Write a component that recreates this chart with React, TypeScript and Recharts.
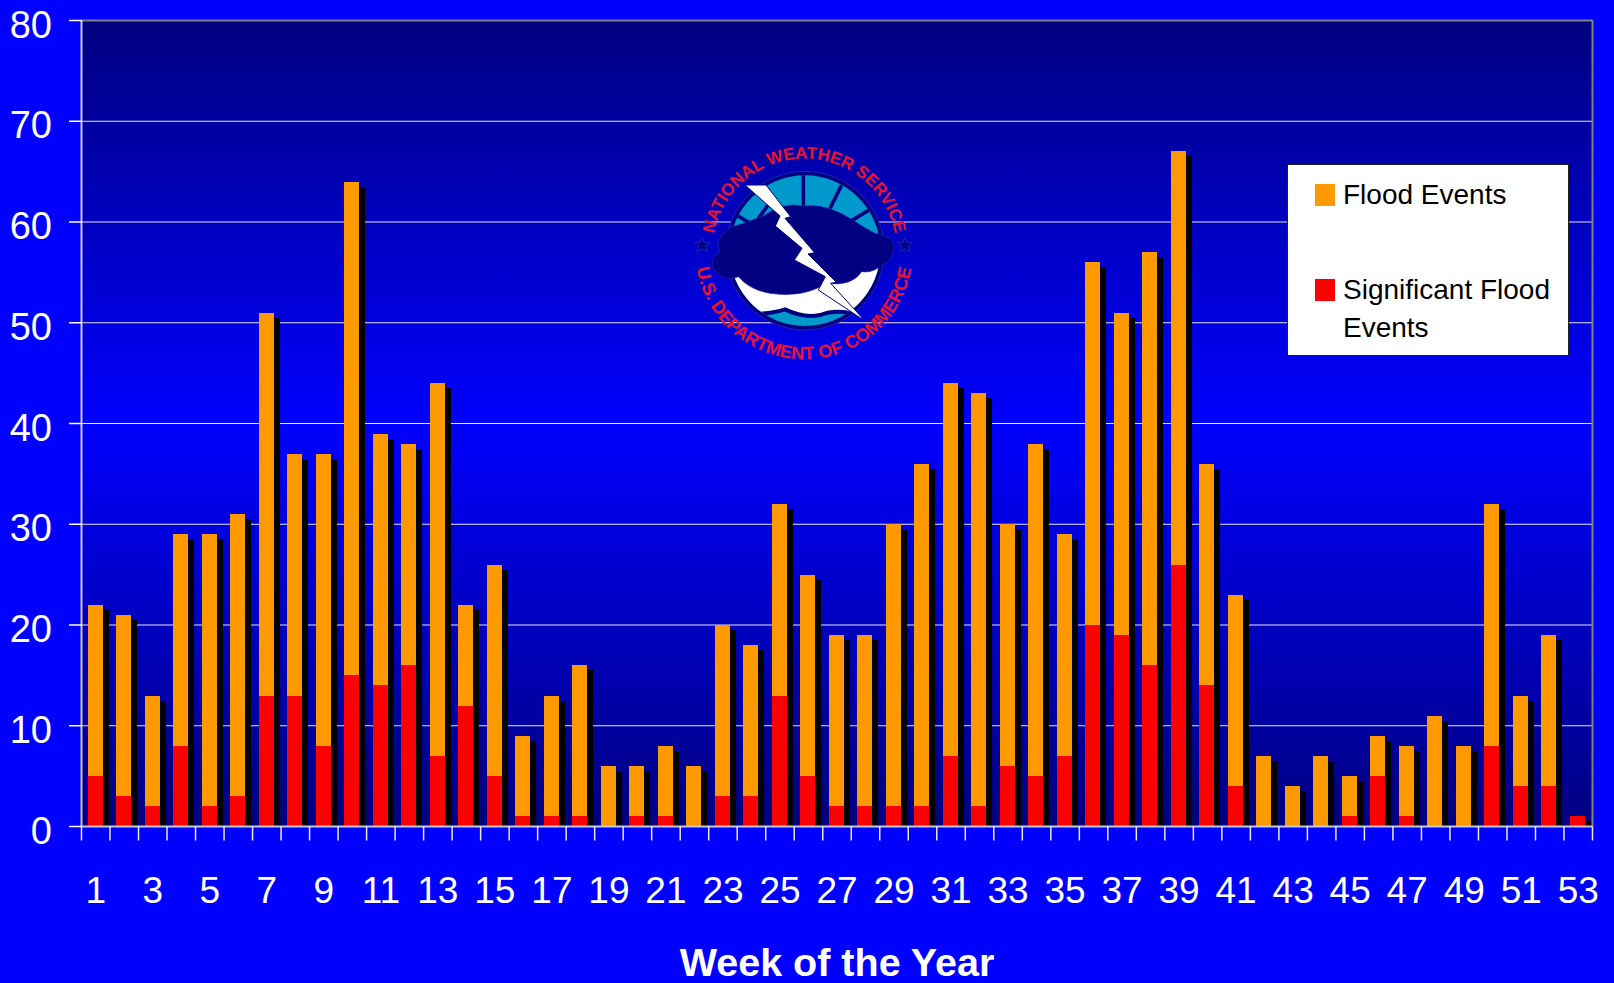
import { Bar, BarChart, CartesianGrid, Legend, ReferenceLine, XAxis, YAxis } from "recharts";

const weeks = Array.from({ length: 53 }, (_, i) => i + 1);
const floodEvents = [
  22, 21, 13, 29, 29, 31, 51, 37, 37, 64, 39, 38, 44, 22, 26, 9, 13, 16, 6, 6, 8, 6, 20, 18, 32, 25, 19,
  19, 30, 36, 44, 43, 30, 38, 29, 56, 51, 57, 67, 36, 23, 7, 4, 7, 5, 9, 8, 11, 8, 32, 13, 19, 1,
];
const significantEvents = [
  5, 3, 2, 8, 2, 3, 13, 13, 8, 15, 14, 16, 7, 12, 5, 1, 1, 1, 0, 1, 1, 0, 3, 3, 13, 5, 2,
  2, 2, 2, 7, 2, 6, 5, 7, 20, 19, 16, 26, 14, 4, 0, 0, 0, 1, 5, 1, 0, 0, 8, 4, 4, 1,
];
const yTicks = [0, 10, 20, 30, 40, 50, 60, 70, 80];

const data = weeks.map((week, i) => ({
  week,
  flood: floodEvents[i],
  significant: significantEvents[i],
}));

const WIDTH = 1614;
const HEIGHT = 983;
const margin = { top: 20.5, right: 21.5, bottom: 0, left: 0 };
const Y_AXIS_WIDTH = 81.5;
const X_AXIS_HEIGHT = 156.5;
const step = (WIDTH - Y_AXIS_WIDTH - margin.right) / weeks.length;
const FONT = "Liberation Sans, Arial, sans-serif";

function FlatBar({ x, y, width, height, fill, shadow }: any) {
  const left = Math.round(x - 1);
  const top = Math.round(y);
  const w = Math.round(width);
  const h = Math.round(y + height) - top;
  if (h <= 0) return null;
  return (
    <g>
      {shadow && <rect x={left + 6} y={top + 5} width={w} height={Math.max(h - 5, 0)} fill="#000" />}
      <rect x={left} y={top} width={w} height={h} fill={fill} />
    </g>
  );
}

function WeekTick({ x, y, index, payload }: any) {
  const edge = x - step / 2;
  return (
    <g>
      <line x1={edge} x2={edge} y1={y} y2={y + 14} stroke="#e8e8ff" strokeWidth={1.5} />
      {index === weeks.length - 1 && (
        <line x1={edge + step} x2={edge + step} y1={y} y2={y + 14} stroke="#e8e8ff" strokeWidth={1.5} />
      )}
      {index % 2 === 0 && (
        <text x={x} y={y + 76.5} textAnchor="middle" fontSize={37} fontFamily={FONT} fill="#fff">
          {payload.value}
        </text>
      )}
    </g>
  );
}

function CountTick({ x, y, payload }: any) {
  return (
    <g>
      <line x1={69} x2={82} y1={y} y2={y} stroke="#fff" strokeWidth={1.5} />
      <text x={52} y={y + 17} textAnchor="end" fontSize={38} fontFamily={FONT} fill="#fff">
        {payload.value}
      </text>
    </g>
  );
}

function LegendBox({ payload }: any) {
  const rows = payload ?? [];
  return (
    <div
      style={{
        position: "relative",
        boxSizing: "border-box",
        width: 282,
        height: 192,
        background: "#fff",
        border: "1px solid #222",
        fontFamily: FONT,
        fontSize: 28,
        lineHeight: "38px",
        color: "#000",
      }}
    >
      {rows.map((row: any, i: number) => (
        <div key={row.value} style={{ position: "absolute", left: 27, top: i === 0 ? 11 : 106, width: 250 }}>
          <span
            style={{ position: "absolute", left: 0, top: 8, width: 20, height: 22, background: row.color }}
          />
          <div style={{ marginLeft: 28 }}>{row.value}</div>
        </div>
      ))}
    </div>
  );
}

// NWS seal, drawn in a 3x local grid so the shapes are easier to place
function Seal() {
  const ink = "#000080";
  const red = "#e8142e";
  return (
    <svg
      width={260}
      height={260}
      viewBox="0 0 780 780"
      style={{ position: "absolute", left: 670, top: 120, pointerEvents: "none" }}
    >
      <defs>
        <clipPath id="sealDisc">
          <circle cx={405} cy={392} r={226} />
        </clipPath>
        <path id="sealTop" d="M 127 392 A 276 276 0 0 1 679 392" />
        <path id="sealBottom" d="M 76 392 A 326 326 0 0 0 728 392" />
      </defs>
      <circle cx={405} cy={392} r={238} fill={ink} stroke="#2222b4" strokeWidth={3} />
      <g clipPath="url(#sealDisc)">
        <rect x={150} y={150} width={520} height={480} fill="#0099cc" />
        <path
          d="M 170 470 L 640 430 L 640 530 L 530 575 Q 490 570 450 585 Q 400 592 345 570 Q 310 578 260 578 Z"
          fill="#fff"
        />
        <path
          d="M 255 582 Q 310 580 345 568 Q 400 595 450 585 Q 490 570 535 578"
          fill="none"
          stroke={ink}
          strokeWidth={12}
        />
        <g stroke={ink} strokeWidth={11}>
          <line x1={400} y1={150} x2={400} y2={270} />
          <line x1={515} y1={195} x2={480} y2={265} />
          <line x1={600} y1={268} x2={545} y2={302} />
          <line x1={298} y1={250} x2={265} y2={295} />
          <line x1={190} y1={280} x2={250} y2={315} />
        </g>
      </g>
      <g fill={ink} stroke="#2222b4" strokeWidth={2}>
        <path d="M 285 285 Q 340 245 400 258 Q 470 250 545 298 Q 585 325 615 340 Q 665 345 672 380 Q 668 425 635 435 Q 610 460 575 455 Q 545 500 470 490 Q 400 535 300 520 Q 240 510 205 470 Q 160 490 128 445 Q 120 410 150 398 Q 130 360 180 322 Q 225 310 285 285 Z" />
      </g>
      <polygon
        points="225,195 288,195 362,290 345,295 434,398 414,402 499,487 482,490 585,603 445,510 466,470 373,420 396,385 316,318 330,288"
        fill="#fff"
        stroke={ink}
        strokeWidth={3}
      />
      <polygon points="97,352 103,368 120,368 107,379 112,395 97,386 82,395 87,379 74,368 91,368" fill={ink} stroke="#2222b4" strokeWidth={3} />
      <polygon points="705,352 711,368 728,368 715,379 720,395 705,386 690,395 695,379 682,368 699,368" fill={ink} stroke="#2222b4" strokeWidth={3} />
      <text fontFamily={FONT} fontWeight={700} fontSize={51} fill={red}>
        <textPath href="#sealTop" startOffset="50%" textAnchor="middle">
          NATIONAL WEATHER SERVICE
        </textPath>
      </text>
      <text fontFamily={FONT} fontWeight={700} fontSize={54} fill={red}>
        <textPath href="#sealBottom" startOffset="50%" textAnchor="middle">
          U.S. DEPARTMENT OF COMMERCE
        </textPath>
      </text>
    </svg>
  );
}

export default function App() {
  return (
    <div style={{ position: "absolute", left: 0, top: 0, width: WIDTH, height: HEIGHT, background: "#0000ff", overflow: "hidden" }}>
      <BarChart width={WIDTH} height={HEIGHT} data={data} margin={margin} barSize={15} barGap={-15}>
        <defs>
          <linearGradient id="plotFill" x1="0" y1="0" x2="0" y2="1">
            <stop offset="0%" stopColor="#000080" />
            <stop offset="50%" stopColor="#0000ff" />
            <stop offset="100%" stopColor="#000080" />
          </linearGradient>
        </defs>
        <CartesianGrid vertical={false} fill="url(#plotFill)" fillOpacity={1} stroke="#e6e6ee" strokeWidth={1} />
        <ReferenceLine y={80} stroke="#808080" strokeWidth={2} />
        <ReferenceLine x={53} position="end" stroke="#808080" strokeWidth={2} />
        <XAxis
          dataKey="week"
          height={X_AXIS_HEIGHT}
          interval={0}
          tickLine={false}
          tickSize={0}
          tickMargin={0}
          tick={WeekTick}
          stroke="#c8c8d0"
          strokeWidth={2}
          label={{
            value: "Week of the Year",
            position: "insideBottom",
            offset: 7,
            fontSize: 39.5,
            fontWeight: 700,
            fontFamily: FONT,
            fill: "#fff",
          }}
        />
        <YAxis
          width={Y_AXIS_WIDTH}
          domain={[0, 80]}
          ticks={yTicks}
          interval={0}
          tickLine={false}
          tick={CountTick}
          stroke="#c8c8d0"
          strokeWidth={2}
        />
        <Legend
          verticalAlign="middle"
          align="center"
          layout="vertical"
          content={LegendBox}
          wrapperStyle={{ position: "absolute", left: 1287, top: 164, width: 282, height: 192 }}
        />
        <Bar
          dataKey="flood"
          name="Flood Events"
          fill="#ff9900"
          isAnimationActive={false}
          shape={(props: any) => <FlatBar {...props} shadow />}
        />
        <Bar
          dataKey="significant"
          name="Significant Flood Events"
          fill="#ff0000"
          isAnimationActive={false}
          shape={(props: any) => <FlatBar {...props} />}
        />
      </BarChart>
      <Seal />
    </div>
  );
}
